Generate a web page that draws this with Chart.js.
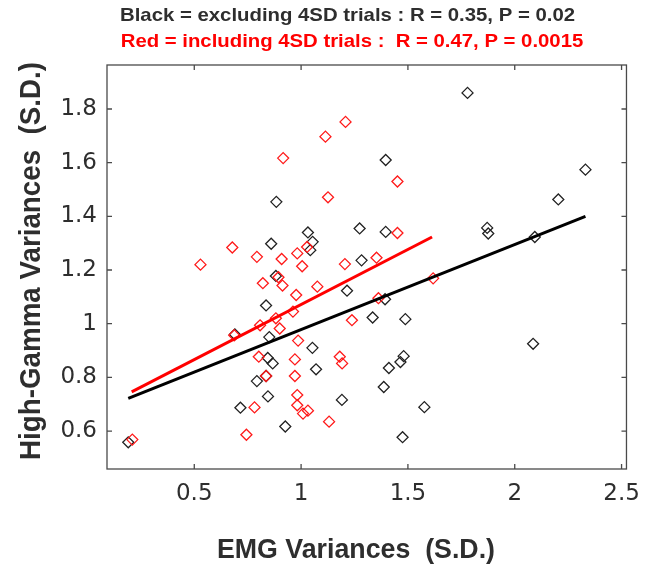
<!DOCTYPE html>
<html>
<head>
<meta charset="utf-8">
<script src="https://cdn.jsdelivr.net/npm/chart.js@4.4.1/dist/chart.umd.min.js"></script>
<style>
  body { margin: 0; background: #fff; }
  #wrap { width: 651px; height: 568px; }
</style>
</head>
<body>
<div id="wrap"><canvas id="myChart" width="651" height="568"></canvas></div>
<script>
// trials without the 4SD outliers (black)
const blackX = [0.191, 0.690, 0.716, 0.793, 0.836, 0.845, 0.844, 0.867, 0.851, 0.836,
  0.882, 0.860, 0.884, 0.926, 1.032, 1.054, 1.043, 1.053, 1.070, 1.191,
  1.215, 1.274, 1.283, 1.335, 1.393, 1.396, 1.396, 1.387, 1.411, 1.465,
  1.480, 1.488, 1.475, 1.577, 1.779, 1.871, 1.876, 2.086, 2.094, 2.204, 2.331];
const blackY = [0.558, 0.960, 0.687, 0.786, 0.805, 0.729, 0.872, 0.852, 0.950, 1.068,
  1.178, 1.298, 1.454, 0.617, 1.340, 1.305, 1.274, 0.910, 0.830, 0.716,
  1.123, 1.355, 1.236, 1.023, 1.091, 1.610, 1.342, 0.764, 0.835, 0.857,
  0.879, 1.017, 0.577, 0.689, 1.860, 1.357, 1.336, 0.925, 1.323, 1.463, 1.574];

// trials including the 4SD outliers (red)
const redX = [0.210, 0.529, 0.678, 0.687, 0.744, 0.782, 0.793, 0.802, 0.808, 0.821,
  0.836, 0.882, 0.894, 0.900, 0.909, 0.913, 0.916, 0.962, 0.971, 0.971,
  0.977, 0.982, 0.982, 0.982, 0.986, 1.005, 1.009, 1.028, 1.032, 1.076,
  1.114, 1.126, 1.131, 1.181, 1.192, 1.205, 1.208, 1.238, 1.353, 1.362,
  1.451, 1.451, 1.618];
const redY = [0.568, 1.220, 1.284, 0.957, 0.586, 0.688, 1.249, 0.877, 0.994, 1.151,
  0.805, 1.020, 1.173, 0.982, 1.241, 1.142, 1.617, 1.045, 0.867, 0.805,
  1.107, 1.262, 0.734, 0.696, 0.937, 1.214, 0.665, 1.286, 0.676, 1.138,
  1.697, 1.471, 0.635, 0.877, 0.852, 1.222, 1.752, 1.013, 1.246, 1.095,
  1.530, 1.338, 1.169];

// regression lines (end points)
const blackFitX = [0.191, 2.331];
const blackFitY = [0.722, 1.400];
const redFitX = [0.207, 1.613];
const redFitY = [0.746, 1.323];

const xTicks = [0.5, 1, 1.5, 2, 2.5];
const yTicks = [0.6, 0.8, 1, 1.2, 1.4, 1.6, 1.8];

const titleBlack = "Black = excluding 4SD trials : R = 0.35, P = 0.02";
const titleRed = "Red = including 4SD trials :  R = 0.47, P = 0.0015";
const xTitle = "EMG Variances  (S.D.)";
const yTitle = "High-Gamma Variances  (S.D.)";

const toPoints = (xs, ys) => xs.map((x, i) => ({ x: x, y: ys[i] }));

const axisColor = "#4a4a4a";
const textColor = "#2e2e2e";

// draws text squeezed to a given width (the labels in the figure are condensed)
function fitText(ctx, text, x, y, width, font, color, rotate) {
  ctx.save();
  ctx.font = font;
  ctx.fillStyle = color;
  ctx.textAlign = "center";
  ctx.textBaseline = "alphabetic";
  const w = ctx.measureText(text).width;
  ctx.translate(x, y);
  if (rotate) ctx.rotate(-Math.PI / 2);
  ctx.scale(width / w, 1);
  ctx.fillText(text, 0, 0);
  ctx.restore();
}

const framePlugin = {
  id: "frame",
  afterDatasetsDraw(chart) {
    const ctx = chart.ctx;
    const a = chart.chartArea;
    const xs = chart.scales.x;
    const ys = chart.scales.y;
    ctx.save();
    ctx.strokeStyle = axisColor;
    ctx.lineWidth = 1.3;
    ctx.strokeRect(a.left, a.top, a.right - a.left, a.bottom - a.top);
    ctx.beginPath();
    const len = 5;
    xs.ticks.forEach((t) => {
      const px = xs.getPixelForValue(t.value);
      ctx.moveTo(px, a.bottom);
      ctx.lineTo(px, a.bottom - len);
      ctx.moveTo(px, a.top);
      ctx.lineTo(px, a.top + len);
    });
    ys.ticks.forEach((t) => {
      const py = ys.getPixelForValue(t.value);
      ctx.moveTo(a.left, py);
      ctx.lineTo(a.left + len, py);
      ctx.moveTo(a.right, py);
      ctx.lineTo(a.right - len, py);
    });
    ctx.stroke();
    ctx.restore();
  },
  afterDraw(chart) {
    const ctx = chart.ctx;
    const bold = "'Liberation Sans', Arial, sans-serif";
    fitText(ctx, titleBlack, 347.5, 20.7, 455, "bold 18.5px " + bold, textColor);
    fitText(ctx, titleRed, 352, 47.3, 462.5, "bold 18.5px " + bold, "#ff0000");
    fitText(ctx, xTitle, 356, 558.3, 278, "bold 28px " + bold, textColor);
    fitText(ctx, yTitle, 40, 261, 398, "bold 30px " + bold, textColor, true);
  },
};

const ctx = document.getElementById("myChart").getContext("2d");

const chart = new Chart(ctx, {
  type: "scatter",
  data: {
    datasets: [
      {
        label: "black fit",
        type: "line",
        data: toPoints(blackFitX, blackFitY),
        borderColor: "#000000",
        borderWidth: 3,
        pointRadius: 0,
        fill: false,
        order: 0,
      },
      {
        label: "red fit",
        type: "line",
        data: toPoints(redFitX, redFitY),
        borderColor: "#ff0000",
        borderWidth: 3,
        pointRadius: 0,
        fill: false,
        order: 0,
      },
      {
        label: "including 4SD",
        data: toPoints(redX, redY),
        pointStyle: "rectRot",
        pointRadius: 5.5,
        borderColor: "#ff1a1a",
        backgroundColor: "rgba(0,0,0,0)",
        pointBorderWidth: 1.3,
        order: 1,
      },
      {
        label: "excluding 4SD",
        data: toPoints(blackX, blackY),
        pointStyle: "rectRot",
        pointRadius: 5.5,
        borderColor: "#222222",
        backgroundColor: "rgba(0,0,0,0)",
        pointBorderWidth: 1.3,
        order: 2,
      },
    ],
  },
  options: {
    responsive: false,
    animation: false,
    events: [],
    layout: { padding: { left: 0, top: 65, right: 16, bottom: 0 } },
    plugins: {
      legend: { display: false },
      tooltip: { enabled: false },
    },
    scales: {
      x: {
        type: "linear",
        min: 0.0915,
        max: 2.523,
        afterBuildTicks: (s) => {
          s.ticks = xTicks.map((v) => ({ value: v }));
        },
        afterFit: (s) => {
          s.height = 99;
        },
        grid: { drawOnChartArea: false, drawTicks: false },
        border: { display: false },
        ticks: {
          padding: 11,
          color: textColor,
          font: { family: "'DejaVu Sans'", size: 23 },
          callback: (v) => String(+v.toFixed(2)),
        },
      },
      y: {
        type: "linear",
        min: 0.4585,
        max: 1.964,
        afterBuildTicks: (s) => {
          s.ticks = yTicks.map((v) => ({ value: v }));
        },
        afterFit: (s) => {
          s.width = 107;
        },
        grid: { drawOnChartArea: false, drawTicks: false },
        border: { display: false },
        ticks: {
          padding: 10,
          color: textColor,
          font: { family: "'DejaVu Sans'", size: 23 },
          callback: (v) => String(+v.toFixed(2)),
        },
      },
    },
  },
  plugins: [framePlugin],
});
</script>
</body>
</html>
